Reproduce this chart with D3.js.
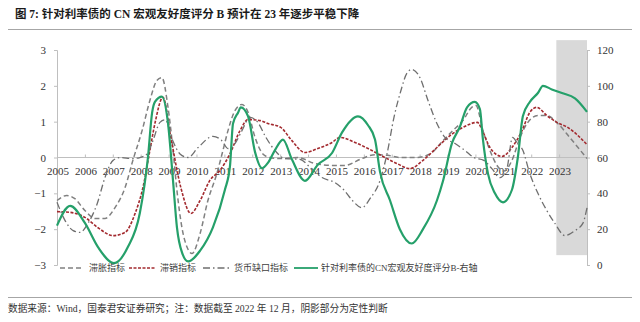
<!DOCTYPE html>
<html>
<head>
<meta charset="utf-8">
<script src="https://cdn.jsdelivr.net/npm/d3@7"></script>
<style>
	body { margin: 0; background: #fff; }
	svg { display: block; }
	.tick-label { font-family: 'Liberation Serif', 'Times New Roman', serif; font-size: 11px; fill: #333; }
	.cn { font-family: 'Liberation Serif', 'Noto Sans CJK SC', sans-serif; }
</style>
</head>
<body>
<div id="chart"></div>
<script>

var titleText = '图 7: 针对利率债的 CN 宏观友好度评分 B 预计在 23 年逐步平稳下降'
var sourceText = '数据来源：Wind，国泰君安证券研究；注：数据截至 2022 年 12 月，阴影部分为定性判断'

var years = [2005, 2006, 2007, 2008, 2009, 2010, 2011, 2012, 2013, 2014, 2015, 2016, 2017, 2018, 2019, 2020, 2021, 2022, 2023]
var leftTicks = [-3, -2, -1, 0, 1, 2, 3]
var rightTicks = [0, 20, 40, 60, 80, 100, 120]
var seriesNames = ['滞胀指标', '滞销指标', '货币缺口指标', '针对利率债的CN宏观友好度评分B-右轴']

/* shaded forecast window: [start year, end year, right-axis bottom, right-axis top] */
var shade = [2022.9, 2024, 5.5, 125.5]

/* [year, value], left axis */
var stagflation = [[2005.0, -1.2], [2005.35, -1.06], [2005.64, -1.15], [2006.0, -1.48], [2006.36, -1.7], [2006.72, -1.7], [2007.08, -1.4],
	[2007.44, -0.84], [2007.72, -0.08], [2008.05, 0.75], [2008.33, 1.59], [2008.58, 2.15], [2008.76, 2.23], [2008.98, 1.4], [2009.16, 0.2],
	[2009.3, -0.92], [2009.48, -1.96], [2009.66, -2.5], [2009.84, -2.68], [2010.13, -2.12], [2010.41, -1.2], [2010.73, -0.45], [2010.95, 0.2],
	[2011.13, 0.75], [2011.38, 1.31], [2011.63, 1.48], [2011.85, 1.26], [2012.1, 0.56], [2012.38, 0.1], [2012.63, 0], [2013.02, -0.03],
	[2013.64, 0], [2014.25, -0.17], [2014.86, -0.22], [2015.32, -0.22], [2015.93, -0.03], [2016.4, 0.08], [2016.86, 0.06], [2017.29, 0],
	[2017.9, 0], [2018.37, 0.1], [2018.84, 0.47], [2019.19, 0.75], [2019.55, 1.03], [2019.87, 1.4], [2020.02, 1.45], [2020.27, 0.75],
	[2020.52, 0.2], [2020.8, -0.25], [2021.02, -0.38], [2021.31, -0.08], [2021.6, 0.56], [2021.88, 0.98], [2022.24, 1.17], [2022.56, 1.17],
	[2022.95, 0.95], [2023.38, 0.56], [2024.0, -0.03]]

var stagnation = [[2005.0, -1.51], [2005.47, -1.53], [2006.0, -1.67], [2006.47, -1.96], [2007.01, -2.18], [2007.44, -2.09], [2007.8, -1.56],
	[2008.08, -0.84], [2008.33, 0.2], [2008.51, 0.95], [2008.8, 1.68], [2009.08, 0.56], [2009.44, -0.84], [2009.8, -1.56], [2010.13, -1.2],
	[2010.48, -0.64], [2010.84, -0.36], [2011.2, 0.1], [2011.56, 0.75], [2011.85, 1.06], [2012.28, 1.03], [2012.56, 0.95], [2013.02, 0.84],
	[2013.42, 0.47], [2013.89, 0.14], [2014.35, 0.25], [2014.86, 0.42], [2015.14, 0.56], [2015.68, 0.42], [2016.15, 0.25], [2016.61, 0.06],
	[2017.19, -0.17], [2017.65, -0.31], [2018.12, -0.08], [2018.62, 0.28], [2019.09, 0.61], [2019.55, 0.84], [2020.07, 0.98], [2020.25, 0.75],
	[2020.52, 0.28], [2020.95, 0.03], [2021.31, 0.28], [2021.67, 0.75], [2021.95, 1.26], [2022.2, 1.4], [2022.56, 1.17], [2022.92, 0.98],
	[2023.31, 0.84], [2024.0, 0.36]]

var moneyGap = [[2005.0, -1.25], [2005.29, -1.76], [2005.58, -2.04], [2005.83, -2.09], [2006.11, -1.84], [2006.44, -1.29], [2006.72, -0.56],
	[2007.01, -0.08], [2007.27, 0], [2007.7, -0.03], [2007.97, 0], [2008.23, 0.1], [2008.44, 0.47], [2008.69, 0.98], [2008.88, 1.05],
	[2009.15, 0.47], [2009.41, 0.1], [2009.7, 0], [2010.06, 0.28], [2010.59, 0.59], [2010.91, 0.47], [2011.13, 0.25], [2011.38, 0.39],
	[2011.63, 0.75], [2011.92, 1.12], [2012.2, 0.98], [2012.49, 0.56], [2012.81, 0.2], [2013.17, -0.03], [2013.71, -0.05], [2014.1, -0.3],
	[2014.5, -0.56], [2014.96, -0.7], [2015.3, -0.92], [2015.59, -1.2], [2015.93, -1.4], [2016.22, -1.15], [2016.58, -0.64], [2016.83, 0.1],
	[2017.08, 1.12], [2017.33, 1.87], [2017.54, 2.35], [2017.72, 2.46], [2018.01, 2.23], [2018.3, 1.59], [2018.62, 0.95], [2018.91, 0.56],
	[2019.27, 0.39], [2019.62, 0.2], [2019.94, 0], [2020.3, -0.08], [2020.59, -0.31], [2020.88, -0.56], [2021.13, -0.3], [2021.33, 0.56],
	[2021.5, 0.4], [2021.7, 0.2], [2021.95, -0.45], [2022.24, -1.0], [2022.56, -1.48], [2022.85, -1.84], [2023.21, -2.18], [2023.57, -2.04],
	[2023.85, -1.84], [2024.0, -1.4]]

/* right axis */
var friendliness = [[2005.0, 22], [2005.47, 33], [2006.0, 23.5], [2006.47, 10], [2007.04, 1], [2007.54, 10], [2007.97, 29], [2008.26, 60],
	[2008.41, 85], [2008.51, 91], [2008.76, 94], [2008.98, 79], [2009.16, 47], [2009.3, 21], [2009.48, 7], [2009.7, 2], [2010.13, 8],
	[2010.59, 21], [2011.02, 42], [2011.2, 55], [2011.31, 79], [2011.49, 85], [2011.59, 88], [2011.85, 83], [2012.1, 63], [2012.35, 54],
	[2012.56, 57], [2012.81, 64], [2013.1, 70], [2013.42, 59], [2013.89, 47], [2014.35, 56], [2014.86, 62.5], [2015.22, 74], [2015.79, 83],
	[2016.15, 78], [2016.4, 70], [2016.58, 52], [2016.94, 36], [2017.29, 20], [2017.72, 12], [2018.12, 20], [2018.62, 36], [2018.84, 47],
	[2019.16, 68], [2019.44, 77], [2019.7, 88], [2019.98, 91], [2020.16, 87], [2020.27, 70], [2020.45, 51], [2020.7, 40], [2020.99, 35],
	[2021.31, 42], [2021.52, 60], [2021.7, 83], [2021.95, 91], [2022.24, 96], [2022.42, 100], [2022.74, 98], [2023.1, 96], [2023.57, 93],
	[2024.0, 85.5]]

var width = 640, height = 322
var plot = { left: 57, right: 587, top: 50, bottom: 265 }

var svg = d3.select('#chart').append('svg')
	.attr('width', width)
	.attr('height', height)

var xScale = d3.scaleLinear().domain([2005, 2024]).range([plot.left, plot.right])
var yLeft = d3.scaleLinear().domain([-3, 3]).range([plot.bottom, plot.top])
var yRight = d3.scaleLinear().domain([0, 120]).range([plot.bottom, plot.top])

/* title + rules */
svg.append('text')
	.attr('class', 'cn')
	.attr('x', 15)
	.attr('y', 17.5)
	.attr('font-size', 11.5)
	.attr('font-weight', 'bold')
	.attr('fill', '#1a1a1a')
	.text(titleText)

svg.append('line')
	.attr('x1', 8).attr('x2', 632)
	.attr('y1', 29.5).attr('y2', 29.5)
	.attr('stroke', '#a6a6a6')

svg.append('line')
	.attr('x1', 8).attr('x2', 632)
	.attr('y1', 297.5).attr('y2', 297.5)
	.attr('stroke', '#a6a6a6')

svg.append('text')
	.attr('class', 'cn')
	.attr('x', 8)
	.attr('y', 312)
	.attr('font-size', 9.7)
	.attr('fill', '#333')
	.text(sourceText)

/* forecast shading */
svg.append('rect')
	.attr('x', xScale(shade[0]))
	.attr('y', yRight(shade[3]))
	.attr('width', xScale(shade[1]) - xScale(shade[0]))
	.attr('height', yRight(shade[2]) - yRight(shade[3]))
	.attr('fill', '#d9d9d9')

/* axes */
var leftAxisG = svg.append('g')
	.attr('transform', 'translate(' + plot.left + ',0)')
	.call(d3.axisLeft(yLeft).tickValues(leftTicks).tickSize(3).tickPadding(8).tickFormat(d3.format('d')))

var rightAxisG = svg.append('g')
	.attr('transform', 'translate(' + plot.right + ',0)')
	.call(d3.axisRight(yRight).tickValues(rightTicks).tickSize(3).tickPadding(7))

var xAxisG = svg.append('g')
	.attr('transform', 'translate(0,' + yLeft(0) + ')')
	.call(d3.axisTop(xScale).tickValues(years.concat([2024])).tickSize(3).tickFormat(''))

xAxisG.selectAll('.xlab')
	.data(years)
	.enter().append('text')
	.attr('class', 'tick-label')
	.attr('x', function (d) { return xScale(d) + 1 })
	.attr('y', 17)
	.attr('text-anchor', 'middle')
	.text(function (d) { return d })

;[leftAxisG, rightAxisG, xAxisG].forEach(function (g) {
	g.select('.domain').attr('stroke', '#bfbfbf')
	g.selectAll('.tick line').attr('stroke', '#bfbfbf')
	g.selectAll('.tick text').attr('class', 'tick-label')
})
xAxisG.select('.domain').attr('d', 'M' + plot.left + ',0H' + plot.right)

/* lines */
var lineLeft = d3.line()
	.curve(d3.curveMonotoneX)
	.x(function (d) { return xScale(d[0]) })
	.y(function (d) { return yLeft(d[1]) })

var lineRight = d3.line()
	.curve(d3.curveMonotoneX)
	.x(function (d) { return xScale(d[0]) })
	.y(function (d) { return yRight(d[1]) })

var styles = [
	{ color: '#808080', width: 1.5, dash: '5,3' },
	{ color: '#a32a2f', width: 1.6, dash: '3,1.5' },
	{ color: '#6f6f6f', width: 1.3, dash: '7,3,1.5,3' },
	{ color: '#25a06a', width: 2.2, dash: null }
]

var leftSeries = [stagflation, stagnation, moneyGap]
leftSeries.forEach(function (s, i) {
	svg.append('path')
		.datum(s)
		.attr('d', lineLeft)
		.attr('fill', 'none')
		.attr('stroke', styles[i].color)
		.attr('stroke-width', styles[i].width)
		.attr('stroke-dasharray', styles[i].dash)
})

svg.append('path')
	.datum(friendliness)
	.attr('d', lineRight)
	.attr('fill', 'none')
	.attr('stroke', styles[3].color)
	.attr('stroke-width', styles[3].width)
	.attr('stroke-linejoin', 'round')

/* legend */
var legendY = 268
var legendPos = [[60, 84, 89], [129, 155, 160], [203, 230, 234], [294, 318, 321]]
var legend = svg.append('g')
seriesNames.forEach(function (name, i) {
	legend.append('line')
		.attr('x1', legendPos[i][0]).attr('x2', legendPos[i][1])
		.attr('y1', legendY).attr('y2', legendY)
		.attr('stroke', styles[i].color)
		.attr('stroke-width', i == 3 ? 1.8 : 1.3)
		.attr('stroke-dasharray', styles[i].dash)
	legend.append('text')
		.attr('class', 'cn')
		.attr('x', legendPos[i][2])
		.attr('y', legendY + 3)
		.attr('font-size', 9)
		.attr('fill', '#404040')
		.text(name)
})

</script>
</body>
</html>
